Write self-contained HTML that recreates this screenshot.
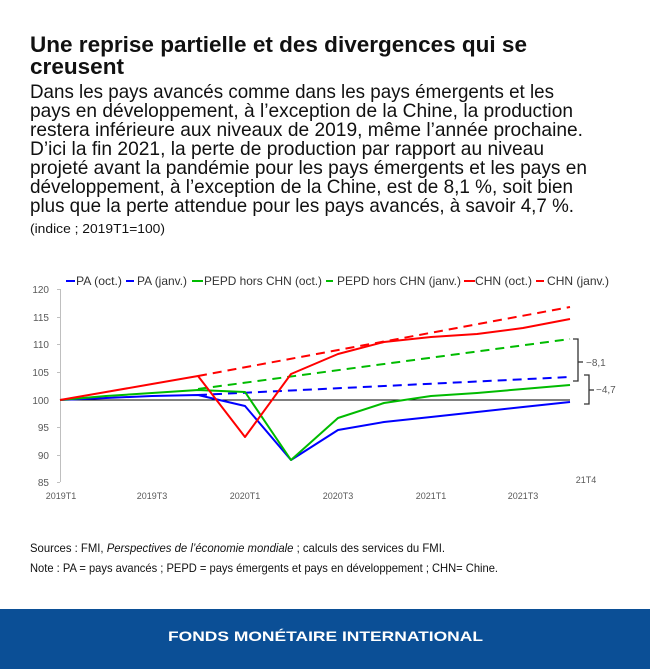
<!DOCTYPE html>
<html><head><meta charset="utf-8"><style>
html,body{margin:0;padding:0;background:#fff;}
svg{display:block;}
text{font-family:"Liberation Sans",sans-serif;}
</style></head><body>
<svg width="650" height="669" viewBox="0 0 650 669" xmlns="http://www.w3.org/2000/svg">
<rect width="650" height="669" fill="#fff"/>
<g font-weight="bold" font-size="22" fill="#111">
<text x="30" y="52" textLength="497" lengthAdjust="spacingAndGlyphs">Une reprise partielle et des divergences qui se</text>
<text x="30" y="74" textLength="94" lengthAdjust="spacingAndGlyphs">creusent</text>
</g>
<g font-size="19.5" fill="#111">
<text x="30" y="98" textLength="524" lengthAdjust="spacingAndGlyphs">Dans les pays avancés comme dans les pays émergents et les</text>
<text x="30" y="117" textLength="543" lengthAdjust="spacingAndGlyphs">pays en développement, à l’exception de la Chine, la production</text>
<text x="30" y="136" textLength="553" lengthAdjust="spacingAndGlyphs">restera inférieure aux niveaux de 2019, même l’année prochaine.</text>
<text x="30" y="155" textLength="514" lengthAdjust="spacingAndGlyphs">D’ici la fin 2021, la perte de production par rapport au niveau</text>
<text x="30" y="174" textLength="557" lengthAdjust="spacingAndGlyphs">projeté avant la pandémie pour les pays émergents et les pays en</text>
<text x="30" y="193" textLength="543" lengthAdjust="spacingAndGlyphs">développement, à l’exception de la Chine, est de 8,1 %, soit bien</text>
<text x="30" y="212" textLength="544" lengthAdjust="spacingAndGlyphs">plus que la perte attendue pour les pays avancés, à savoir 4,7 %.</text>
</g>
<text x="30" y="233" font-size="13" fill="#111" textLength="135" lengthAdjust="spacingAndGlyphs">(indice ; 2019T1=100)</text>

<g font-size="12" fill="#333">
<line x1="66" y1="281" x2="75" y2="281" stroke="#0000ff" stroke-width="2"/>
<text x="76" y="285" textLength="46" lengthAdjust="spacingAndGlyphs">PA (oct.)</text>
<line x1="126" y1="281" x2="134" y2="281" stroke="#0000ff" stroke-width="2"/>
<text x="137" y="285" textLength="50" lengthAdjust="spacingAndGlyphs">PA (janv.)</text>
<line x1="192" y1="281" x2="203" y2="281" stroke="#00bb00" stroke-width="2"/>
<text x="204" y="285" textLength="118" lengthAdjust="spacingAndGlyphs">PEPD hors CHN (oct.)</text>
<line x1="326" y1="281" x2="333" y2="281" stroke="#00bb00" stroke-width="2"/>
<text x="337" y="285" textLength="124" lengthAdjust="spacingAndGlyphs">PEPD hors CHN (janv.)</text>
<line x1="464" y1="281" x2="475" y2="281" stroke="#ff0000" stroke-width="2"/>
<text x="475" y="285" textLength="57" lengthAdjust="spacingAndGlyphs">CHN (oct.)</text>
<line x1="536" y1="281" x2="544" y2="281" stroke="#ff0000" stroke-width="2"/>
<text x="547" y="285" textLength="62" lengthAdjust="spacingAndGlyphs">CHN (janv.)</text>
</g>

<g stroke="#bfbfbf" stroke-width="1">
<line x1="60.5" y1="289" x2="60.5" y2="482"/>
<line x1="57" y1="289.5" x2="60" y2="289.5"/>
<line x1="57" y1="317.5" x2="60" y2="317.5"/>
<line x1="57" y1="344.5" x2="60" y2="344.5"/>
<line x1="57" y1="372.5" x2="60" y2="372.5"/>
<line x1="57" y1="427.5" x2="60" y2="427.5"/>
<line x1="57" y1="455.5" x2="60" y2="455.5"/>
<line x1="57" y1="482.5" x2="60" y2="482.5"/>
</g>
<line x1="60" y1="400" x2="570" y2="400" stroke="#000" stroke-width="1"/>
<g font-size="10" fill="#595959" text-anchor="end">
<text x="49" y="293">120</text><text x="49" y="321">115</text><text x="49" y="348">110</text>
<text x="49" y="376">105</text><text x="49" y="404">100</text><text x="49" y="431">95</text>
<text x="49" y="459">90</text><text x="49" y="486">85</text>
</g>
<g font-size="9" fill="#595959" text-anchor="middle">
<text x="61" y="499">2019T1</text><text x="152" y="499">2019T3</text><text x="245" y="499">2020T1</text>
<text x="338" y="499">2020T3</text><text x="431" y="499">2021T1</text><text x="523" y="499">2021T3</text>
<text x="586" y="483">21T4</text>
</g>

<g fill="none" stroke-width="2" stroke-linejoin="round">
<polyline stroke="#ff0000" stroke-dasharray="9,6" points="198,376 570,307"/>
<polyline stroke="#00bb00" stroke-dasharray="9,6" points="198,389 570,339"/>
<polyline stroke="#0000ff" stroke-dasharray="9,6" points="198,395 570,377"/>
<polyline stroke="#0000ff" points="60,400 106,398 152,396 198,395 245,406 291,460 338,430 384,422 431,417 477,412 523,407 570,402"/>
<polyline stroke="#00bb00" points="60,400 106,396 152,393 198,390 245,392 291,460 338,418 384,403 431,396 477,393 523,389 570,385"/>
<polyline stroke="#ff0000" points="60,400 106,392 152,384 198,376 245,437 291,374 338,354 384,342 431,337 477,334 523,328 570,319"/>
</g>

<g fill="none" stroke="#333" stroke-width="1.3">
<polyline points="573,339 578,339 578,381 573,381"/>
<line x1="578" y1="362" x2="583" y2="362"/>
<polyline points="584,375 589,375 589,404 584,404"/>
<line x1="589" y1="390" x2="594" y2="390"/>
</g>
<g font-size="10" fill="#595959">
<text x="586" y="366">−8,1</text>
<text x="596" y="393">−4,7</text>
</g>

<g font-size="12" fill="#111">
<text x="30" y="552" textLength="415" lengthAdjust="spacingAndGlyphs">Sources : FMI, <tspan font-style="italic">Perspectives de l’économie mondiale</tspan> ; calculs des services du FMI.</text>
<text x="30" y="572" textLength="468" lengthAdjust="spacingAndGlyphs">Note : PA = pays avancés ; PEPD = pays émergents et pays en développement ; CHN= Chine.</text>
</g>

<rect x="0" y="609" width="650" height="60" fill="#0b4f96"/>
<text x="168" y="641" font-size="14" font-weight="bold" fill="#fff" textLength="315" lengthAdjust="spacingAndGlyphs">FONDS MONÉTAIRE INTERNATIONAL</text>
</svg>
</body></html>
